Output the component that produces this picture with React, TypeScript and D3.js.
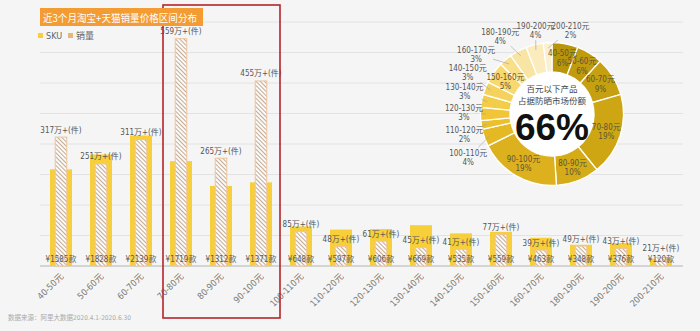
import React from "react";
import * as d3 from "d3";

const categories = ["40-50元", "50-60元", "60-70元", "70-80元", "80-90元", "90-100元", "100-110元", "110-120元", "120-130元", "130-140元", "140-150元", "150-160元", "160-170元", "180-190元", "190-200元", "200-210元"];
const skuCounts = [1585, 1828, 2139, 1719, 1312, 1371, 648, 597, 606, 669, 535, 559, 463, 348, 376, 120];
const salesWan = [317, 251, 311, 559, 265, 455, 85, 48, 61, 45, 41, 77, 39, 49, 43, 21];
const shareLabels = categories;
const sharePct = [6, 6, 9, 19, 10, 19, 4, 2, 3, 3, 3, 5, 3, 4, 4, 2];
const highlighted = ["70-80元", "80-90元", "90-100元"];
const titleText = "近3个月淘宝+天猫销量价格区间分布";
const legendItems = ["SKU", "销量"];
const centerLines = ["百元以下产品", "占据防晒市场份额"];
const centerValue = "66%";
const sourceNote = "数据来源：阿里大数据2020.4.1-2020.6.30";
const donutPalette = ["#b8950b", "#c09b0e", "#c7a011", "#cea614", "#d5ab18", "#dcb11d", "#e4b923", "#ebc02a", "#f0c636", "#f3cc48", "#f5d25b", "#f7d970", "#f8df8a", "#f9e5a3", "#fbebbd", "#fcf0d2"];

const NARROW = "'Liberation Sans Narrow','DejaVu Sans Condensed','Noto Sans CJK SC',sans-serif";
const CJK = "'Noto Sans CJK SC','Noto Sans',sans-serif";

export default function App() {
  const W = 700, H = 331;
  const x = d3.scaleBand<string>().domain(categories).range([41, 681]).padding(0);
  const ySku = d3.scaleLinear().domain([0, 4000]).range([266, 22]);
  const ySales = d3.scaleLinear().domain([0, 600]).range([266, 22]);
  const bw = x.bandwidth();
  const skuW = bw * 0.55;
  const salesW = bw * 0.29;
  const grid = ySku.ticks(8);

  // donut
  const cx = 552, cy = 114, rIn = 42, rOut = 71.5;
  const pie = d3.pie<number>().sort(null).value((d) => d);
  const arcs = pie(sharePct);
  const arcGen = d3.arc<d3.PieArcDatum<number>>().innerRadius(rIn).outerRadius(rOut);
  const inner = arcs.map((a, i) => ({ a, i })).filter((o) => sharePct[o.i] >= 5);
  const outside = arcs
    .map((a, i) => ({ i, mid: (a.startAngle + a.endAngle) / 2, ang: (a.startAngle + a.endAngle) / 2 }))
    .filter((o) => sharePct[o.i] < 5)
    .sort((p, q) => p.mid - q.mid);

  // labels sit on a rounded box (superellipse) around the ring
  const A = 88, B = 84;
  const onRing = (ang: number): [number, number] => {
    const s = Math.sin(ang), c = -Math.cos(ang);
    const t = Math.pow(Math.pow(Math.abs(s) / A, 3) + Math.pow(Math.abs(c) / B, 3), -1 / 3);
    return [cx + t * s, cy + t * c];
  };
  const rad = Math.PI / 180;
  // 1) angular spreading
  for (let it = 0; it < 300; it++) {
    for (let k = 0; k < outside.length - 1; k++) {
      const p = outside[k], q = outside[k + 1];
      const mean = (p.ang + q.ang) / 2 / rad;
      const need = (mean < 300 ? 14 : 11) * rad;
      const gap = q.ang - p.ang;
      if (gap < need) {
        const s = (need - gap) / 2;
        p.ang -= s;
        q.ang += s;
      }
    }
  }
  // 2) box collision spreading
  const BW = 35, BH = 18, step = 0.2 * rad;
  for (let it = 0; it < 3000; it++) {
    let moved = false;
    for (let k = 0; k < outside.length - 1; k++) {
      const p = outside[k], q = outside[k + 1];
      const [px, py] = onRing(p.ang);
      const [qx, qy] = onRing(q.ang);
      if (Math.abs(px - qx) < BW && Math.abs(py - qy) < BH) {
        p.ang -= step;
        q.ang += step;
        moved = true;
      }
    }
    if (!moved) break;
  }
  const outLabels = outside.map((o) => {
    const [lx, ly] = onRing(o.ang);
    const tx = cx + 66 * Math.sin(o.mid);
    const ty = cy - 66 * Math.cos(o.mid);
    const dx = tx - lx, dy = ty - ly;
    const t = Math.min(17 / Math.max(Math.abs(dx), 1e-6), 10 / Math.max(Math.abs(dy), 1e-6));
    return { ...o, lx, ly, sx: lx + dx * t, sy: ly + dy * t, tx, ty };
  });

  const hx0 = (x(highlighted[0]) as number) + 2;
  const hx1 = (x(highlighted[highlighted.length - 1]) as number) + bw - 1;

  return (
    <svg width={W} height={H} style={{ position: "absolute", left: 0, top: 0, background: "#f5f5f5" }}>
      <defs>
        <pattern id="hatch" patternUnits="userSpaceOnUse" width="3" height="3" patternTransform="rotate(-45)">
          <rect width="3" height="3" fill="#fbfaf8" />
          <line x1="0.5" y1="0" x2="0.5" y2="3" stroke="#c4ab94" strokeWidth="1" />
        </pattern>
      </defs>
      <rect x={0} y={0} width={W} height={H} fill="#f5f5f5" />

      {grid.map((g) => (
        <line key={g} x1={40} x2={683} y1={ySku(g)} y2={ySku(g)} stroke={g === 0 ? "#c8c8c8" : "#e2e2e2"} strokeWidth={g === 0 ? 1.5 : 1} />
      ))}

      {categories.map((c, i) => {
        const cxb = (x(c) as number) + bw / 2;
        return (
          <g key={c}>
            <rect x={cxb - skuW / 2} y={ySku(skuCounts[i])} width={skuW} height={ySku(0) - ySku(skuCounts[i])} fill="#f6cf3a" />
            <rect x={cxb - salesW / 2} y={ySales(salesWan[i])} width={salesW} height={ySales(0) - ySales(salesWan[i])} fill="url(#hatch)" stroke="#f0c49c" strokeWidth={1} />
            <text x={cxb} y={Math.min(ySales(salesWan[i]) - 4.5, 251)} textAnchor="middle" fontSize={8} fill="#555" fontFamily={NARROW}>
              {salesWan[i]}万+(件)
            </text>
            <text x={cxb} y={261.5} textAnchor="middle" fontSize={8} fill="#5a5a5a" fontFamily={NARROW}>
              ¥{skuCounts[i]}款
            </text>
            <text transform={`translate(${cxb + 3},${277}) rotate(-45)`} textAnchor="end" fontSize={9} fill="#777" fontFamily={NARROW}>
              {c}
            </text>
          </g>
        );
      })}

      {/* highlight box */}
      <rect x={hx0} y={5} width={hx1 - hx0} height={313} fill="none" stroke="#b5252b" strokeWidth={1.6} />

      {/* title */}
      <rect x={40} y={8} width={163} height={18} fill="#f29c33" />
      <text x={43} y={21.5} fontSize={10.5} fill="#fff" fontFamily={CJK} textLength={154} lengthAdjust="spacingAndGlyphs">
        {titleText}
      </text>

      {/* legend */}
      <rect x={38} y={33} width={5} height={5} fill="#f6cf3a" />
      <text x={46} y={38.5} fontSize={9} fill="#666" fontFamily={NARROW}>{legendItems[0]}</text>
      <rect x={68} y={33} width={5} height={5} fill="#e8b57c" />
      <text x={76} y={38.5} fontSize={9} fill="#666" fontFamily={CJK}>{legendItems[1]}</text>

      {/* donut */}
      <circle cx={cx} cy={cy} r={rIn} fill="#ffffff" />
      <g transform={`translate(${cx},${cy})`}>
        {arcs.map((a, i) => (
          <path key={i} d={arcGen(a) as string} fill={donutPalette[i]} stroke="#ffffff" strokeWidth={1.3} />
        ))}
      </g>
      {inner.map(({ a, i }) => {
        const m = (a.startAngle + a.endAngle) / 2;
        const lx = cx + 57 * Math.sin(m);
        const ly = cy - 57 * Math.cos(m);
        return (
          <text key={i} textAnchor="middle" fontSize={8} fill="#5e5535" fontFamily={NARROW}>
            <tspan x={lx} y={ly - 1.5}>{shareLabels[i]}</tspan>
            <tspan x={lx} y={ly + 8}>{sharePct[i]}%</tspan>
          </text>
        );
      })}
      {outLabels.map((o) => (
        <g key={o.i}>
          <line x1={o.sx} y1={o.sy} x2={o.tx} y2={o.ty} stroke="#a0a0a0" strokeWidth={0.6} />
          <text textAnchor="middle" fontSize={8} fill="#555" fontFamily={NARROW}>
            <tspan x={o.lx} y={o.ly - 1.5}>{shareLabels[o.i]}</tspan>
            <tspan x={o.lx} y={o.ly + 7.5}>{sharePct[o.i]}%</tspan>
          </text>
        </g>
      ))}
      <text x={cx} y={91.5} textAnchor="middle" fontSize={8.5} fill="#444" fontFamily={CJK}>{centerLines[0]}</text>
      <text x={cx} y={103.5} textAnchor="middle" fontSize={8.5} fill="#444" fontFamily={CJK}>{centerLines[1]}</text>
      <text x={cx} y={140} textAnchor="middle" fontSize={37} fontWeight="bold" fill="#111" fontFamily="'Liberation Sans',Arial,sans-serif">{centerValue}</text>

      <text x={8} y={320} fontSize={6.5} fill="#aaa" fontFamily={NARROW}>{sourceNote}</text>
    </svg>
  );
}
